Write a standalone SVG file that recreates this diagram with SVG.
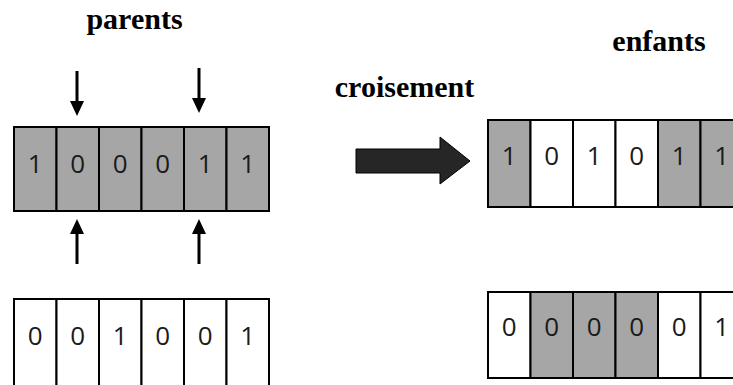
<svg xmlns="http://www.w3.org/2000/svg" width="733" height="385" viewBox="0 0 733 385">
<defs>
<style>
.g{fill:#a6a6a6;stroke:#000;stroke-width:2}
.w{fill:#fff;stroke:#000;stroke-width:2}
.d{font-family:"Open Sans","Liberation Sans",sans-serif;font-size:26px;fill:#1a1a1a;text-anchor:middle}
.t{font-family:"Liberation Serif","Times New Roman",serif;font-weight:bold;font-size:30px;fill:#000;text-anchor:middle}
.a{stroke:#000;stroke-width:3;fill:none;marker-end:url(#h)}
</style>
<marker id="h" markerUnits="userSpaceOnUse" markerWidth="15" markerHeight="14" refX="7" refY="7" orient="auto">
<path d="M0,0 L15,7 L0,14 Z" fill="#000"/>
</marker>
</defs>
<rect width="733" height="385" fill="#fff"/>

<g id="label-parents"><text class="t" x="134.5" y="28.5">parents</text></g>
<g id="label-croisement"><text class="t" x="404.5" y="97">croisement</text></g>
<g id="label-enfants"><text class="t" x="659" y="50.5">enfants</text></g>

<g id="parent1">
<rect class="g" x="14" y="127" width="42.5" height="84"/>
<rect class="g" x="56.5" y="127" width="42.5" height="84"/>
<rect class="g" x="99" y="127" width="42.5" height="84"/>
<rect class="g" x="141.5" y="127" width="42.5" height="84"/>
<rect class="g" x="184" y="127" width="42.5" height="84"/>
<rect class="g" x="226.5" y="127" width="42.5" height="84"/>
<text class="d" x="35.25" y="173">1</text>
<text class="d" x="77.75" y="173">0</text>
<text class="d" x="120.25" y="173">0</text>
<text class="d" x="162.75" y="173">0</text>
<text class="d" x="205.25" y="173">1</text>
<text class="d" x="247.75" y="173">1</text>
</g>

<g id="parent2">
<rect class="w" x="14" y="299" width="42.5" height="95"/>
<rect class="w" x="56.5" y="299" width="42.5" height="95"/>
<rect class="w" x="99" y="299" width="42.5" height="95"/>
<rect class="w" x="141.5" y="299" width="42.5" height="95"/>
<rect class="w" x="184" y="299" width="42.5" height="95"/>
<rect class="w" x="226.5" y="299" width="42.5" height="95"/>
<text class="d" x="35.25" y="345">0</text>
<text class="d" x="77.75" y="345">0</text>
<text class="d" x="120.25" y="345">1</text>
<text class="d" x="162.75" y="345">0</text>
<text class="d" x="205.25" y="345">0</text>
<text class="d" x="247.75" y="345">1</text>
</g>

<g id="child1">
<rect class="g" x="488" y="120" width="42.5" height="87"/>
<rect class="w" x="530.5" y="120" width="42.5" height="87"/>
<rect class="w" x="573" y="120" width="42.5" height="87"/>
<rect class="w" x="615.5" y="120" width="42.5" height="87"/>
<rect class="g" x="658" y="120" width="42.5" height="87"/>
<rect class="g" x="700.5" y="120" width="42.5" height="87"/>
<text class="d" x="509.25" y="165">1</text>
<text class="d" x="551.75" y="165">0</text>
<text class="d" x="594.25" y="165">1</text>
<text class="d" x="636.75" y="165">0</text>
<text class="d" x="679.25" y="165">1</text>
<text class="d" x="721.75" y="165">1</text>
</g>

<g id="child2">
<rect class="w" x="488" y="292" width="42.5" height="86"/>
<rect class="g" x="530.5" y="292" width="42.5" height="86"/>
<rect class="g" x="573" y="292" width="42.5" height="86"/>
<rect class="g" x="615.5" y="292" width="42.5" height="86"/>
<rect class="w" x="658" y="292" width="42.5" height="86"/>
<rect class="w" x="700.5" y="292" width="42.5" height="86"/>
<text class="d" x="509.25" y="336">0</text>
<text class="d" x="551.75" y="336">0</text>
<text class="d" x="594.25" y="336">0</text>
<text class="d" x="636.75" y="336">0</text>
<text class="d" x="679.25" y="336">0</text>
<text class="d" x="721.75" y="336">1</text>
</g>

<g id="connectors">
<line class="a" x1="77" y1="71" x2="77" y2="108"/>
<line class="a" x1="199" y1="68" x2="199" y2="105"/>
<line class="a" x1="77" y1="264" x2="77" y2="227"/>
<line class="a" x1="199" y1="264" x2="199" y2="227"/>
<path d="M356,149 L440,149 L440,137 L470,161 L440,184 L440,173 L356,173 Z" fill="#262626" stroke="#000" stroke-width="1"/>
</g>
</svg>
